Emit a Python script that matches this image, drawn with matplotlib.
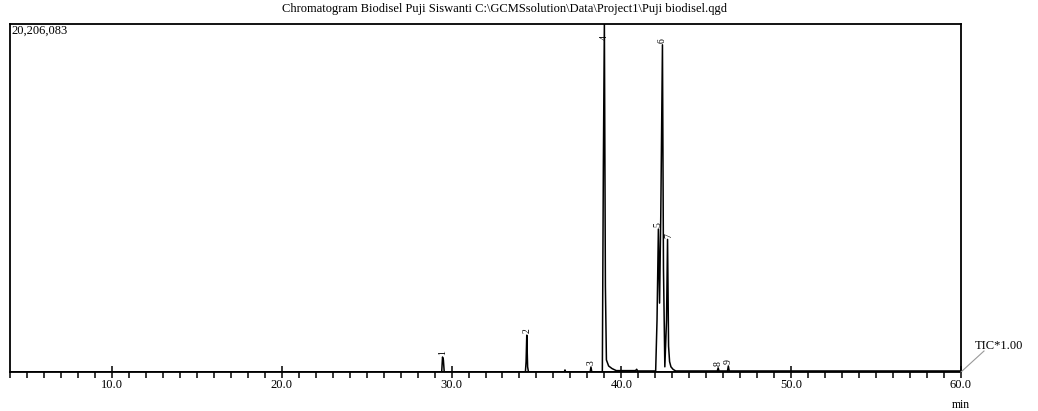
import matplotlib.pyplot as plt
from matplotlib.ticker import MultipleLocator, FormatStrFormatter
from matplotlib.lines import Line2D

plt.rcParams['font.family'] = ['Liberation Serif', 'DejaVu Serif']

title = r'Chromatogram Biodisel Puji Siswanti C:\GCMSsolution\Data\Project1\Puji biodisel.qgd'
y_max = 20206083

# TIC trace (minutes, counts)
trace_time = [4.0, 29.42, 29.47, 29.52, 29.57, 34.35, 34.39, 34.43, 34.48, 34.53,
              36.64, 36.68, 36.72, 38.16, 38.21, 38.26, 38.88, 38.94, 39.0,
              39.06, 39.12, 39.25, 39.45, 39.7, 40.84, 40.9, 40.96, 42.02, 42.1,
              42.18, 42.25, 42.32, 42.42, 42.48, 42.56, 42.66, 42.72, 42.78, 42.84, 42.92, 43.05,
              43.2, 45.65, 45.7, 45.75, 46.25, 46.3, 46.35, 60.0]
trace_tic = [0, 0, 870000, 700000, 0, 0, 600000, 2140000, 300000, 0,
             0, 120000, 0, 0, 290000, 0, 0, 12000000, 20300000,
             5000000, 700000, 350000, 200000, 80000, 80000, 160000, 60000, 60000, 3000000,
             8300000, 4000000, 9000000, 19000000, 6000000, 300000, 3000000, 7700000, 1500000, 600000, 300000, 150000,
             60000, 60000, 240000, 60000, 60000, 350000, 60000, 60000]

peak_no = ['1', '2', '3', '4', '5', '6', '7', '8', '9']
peak_rt = [29.47, 34.43, 38.21, 39.0, 42.18, 42.42, 42.78, 45.7, 46.3]
peak_height = [870000, 2140000, 290000, 20300000, 8300000, 19000000, 7700000, 240000, 350000]

fig = plt.figure(figsize=(10.38, 4.11), dpi=100)
ax = fig.add_axes([10 / 1038, 39 / 411, 951 / 1038, 348 / 411])

ax.plot(trace_time, trace_tic, color='black', linewidth=1.1)
ax.axhline(0, color='black', linewidth=1.3)

for no, rt, h in zip(peak_no, peak_rt, peak_height):
    ax.text(rt, min(h, y_max * 0.95) + y_max * 0.005, no, rotation=90,
            ha='center', va='bottom', fontsize=7)

ax.set_xlim(4, 60)
ax.set_ylim(0, y_max)
ax.xaxis.set_major_locator(MultipleLocator(10))
ax.xaxis.set_minor_locator(MultipleLocator(1))
ax.xaxis.set_major_formatter(FormatStrFormatter('%.1f'))
ax.tick_params(axis='x', which='major', direction='inout', length=8, width=1.1,
               labelsize=9, pad=1)
ax.tick_params(axis='x', which='minor', direction='out', length=4, width=1.1)
ax.set_yticks([])
for s in ax.spines.values():
    s.set_linewidth(1.3)

ax.text(0.002, 0.997, '20,206,083', transform=ax.transAxes, ha='left', va='top',
        fontsize=9)
fig.text(505 / 1038, 1 - 9 / 411, title, ha='center', va='center', fontsize=9)
fig.text(961 / 1038, 1 - 405 / 411, 'min', ha='center', va='center', fontsize=8.5)
fig.add_artist(Line2D([961 / 1038, 984 / 1038], [39 / 411, 60 / 411],
                      color='#999999', linewidth=0.8))
fig.text(975 / 1038, 1 - 346 / 411, 'TIC*1.00', ha='left', va='center', fontsize=9)

fig.savefig('out.png', dpi=100)
